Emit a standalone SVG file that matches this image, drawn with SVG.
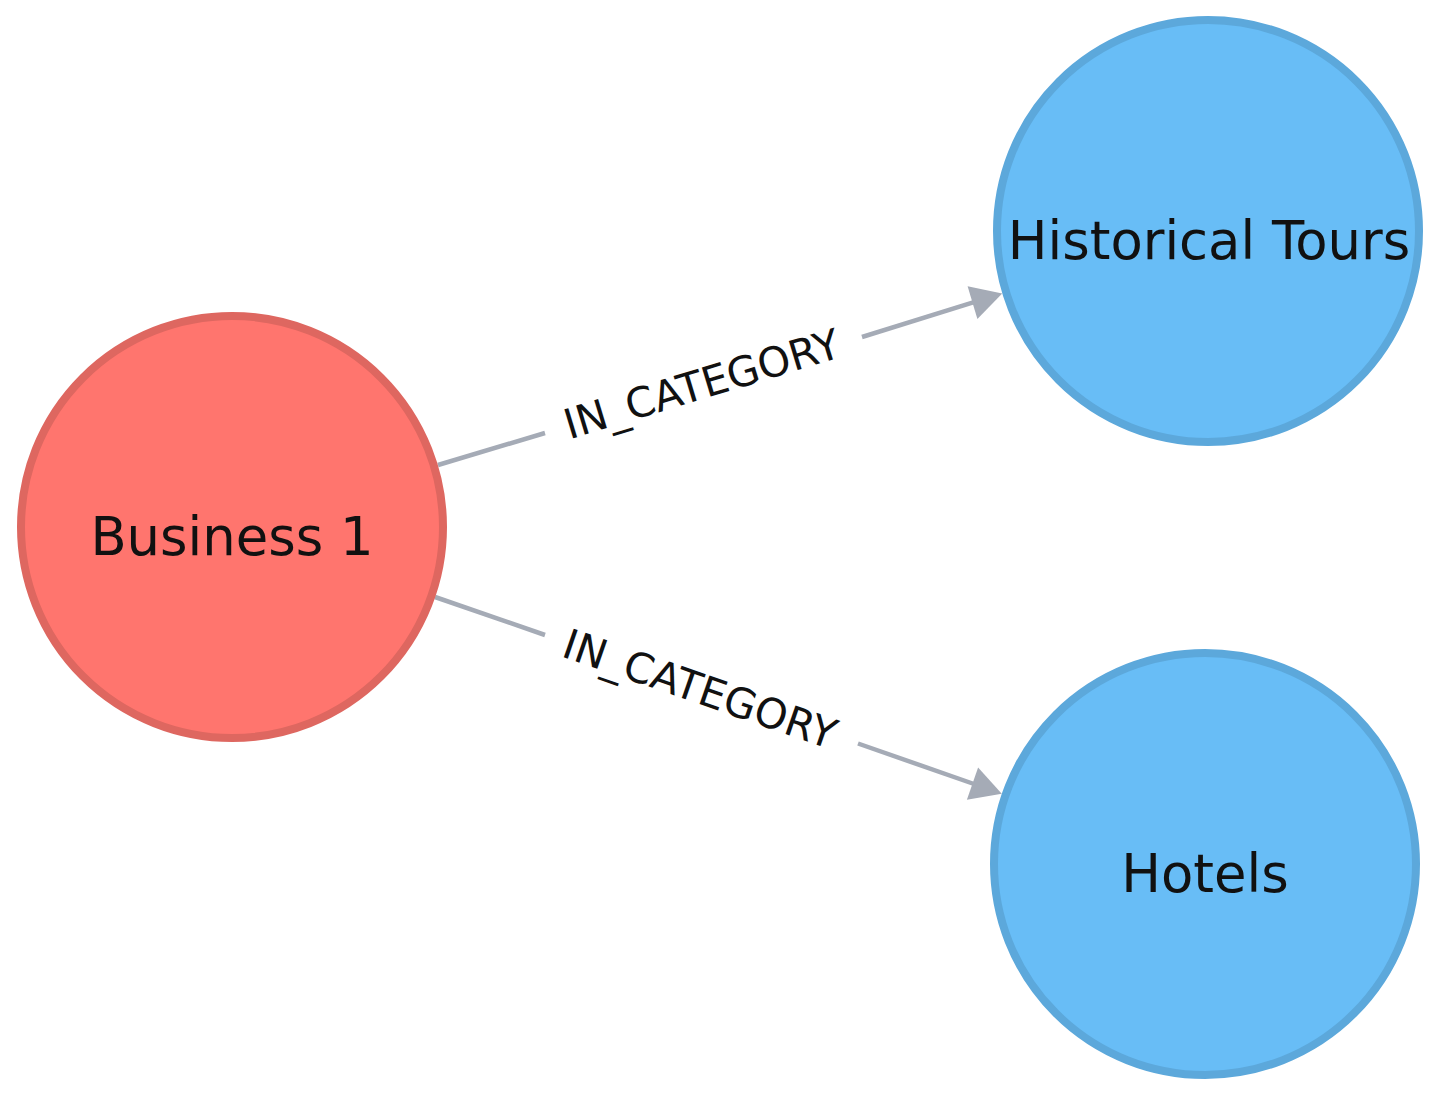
<svg xmlns="http://www.w3.org/2000/svg" width="1441" height="1097" viewBox="0 0 1441 1097">
<style>
.red{fill:#ff756e;stroke:#de6760;stroke-width:8}
.blue{fill:#68bdf6;stroke:#5ca8db;stroke-width:8}
.nl{font-family:"DejaVu Sans",sans-serif;font-size:52.8px;fill:#111;text-anchor:middle}
.edge{stroke:#a5abb6;stroke-width:4.5;fill:none}
.head{fill:#a5abb6}
.el{font-family:"DejaVu Sans",sans-serif;font-size:41.5px;fill:#111;text-anchor:middle;dominant-baseline:central}
</style>
<rect width="1441" height="1097" fill="#fff"/>
<g id="connectors">
<g id="e1">
<line class="edge" x1="438" y1="465" x2="545" y2="433"/>
<line class="edge" x1="862" y1="337" x2="974" y2="302.2"/>
<polygon class="head" points="1002.2,293.6 977.4,318.9 967.6,286.3"/>
<text class="el" transform="translate(702,384) rotate(-16.87)">IN_CATEGORY</text>
</g>
<g id="e2">
<line class="edge" x1="435" y1="597" x2="545" y2="635"/>
<line class="edge" x1="858" y1="743.5" x2="974" y2="784"/>
<polygon class="head" points="1001.8,793.7 966.9,799.7 978.1,767.5"/>
<text class="el" transform="translate(700,689) rotate(19.1)">IN_CATEGORY</text>
</g>
</g>
<g id="n-business1">
<circle class="red" cx="232" cy="527" r="211"/>
<text class="nl" x="232" y="555">Business 1</text>
</g>
<g id="n-historical">
<circle class="blue" cx="1208" cy="231" r="211"/>
<text class="nl" x="1209" y="259">Historical Tours</text>
</g>
<g id="n-hotels">
<circle class="blue" cx="1205" cy="864" r="211"/>
<text class="nl" x="1205" y="892">Hotels</text>
</g>
</svg>
